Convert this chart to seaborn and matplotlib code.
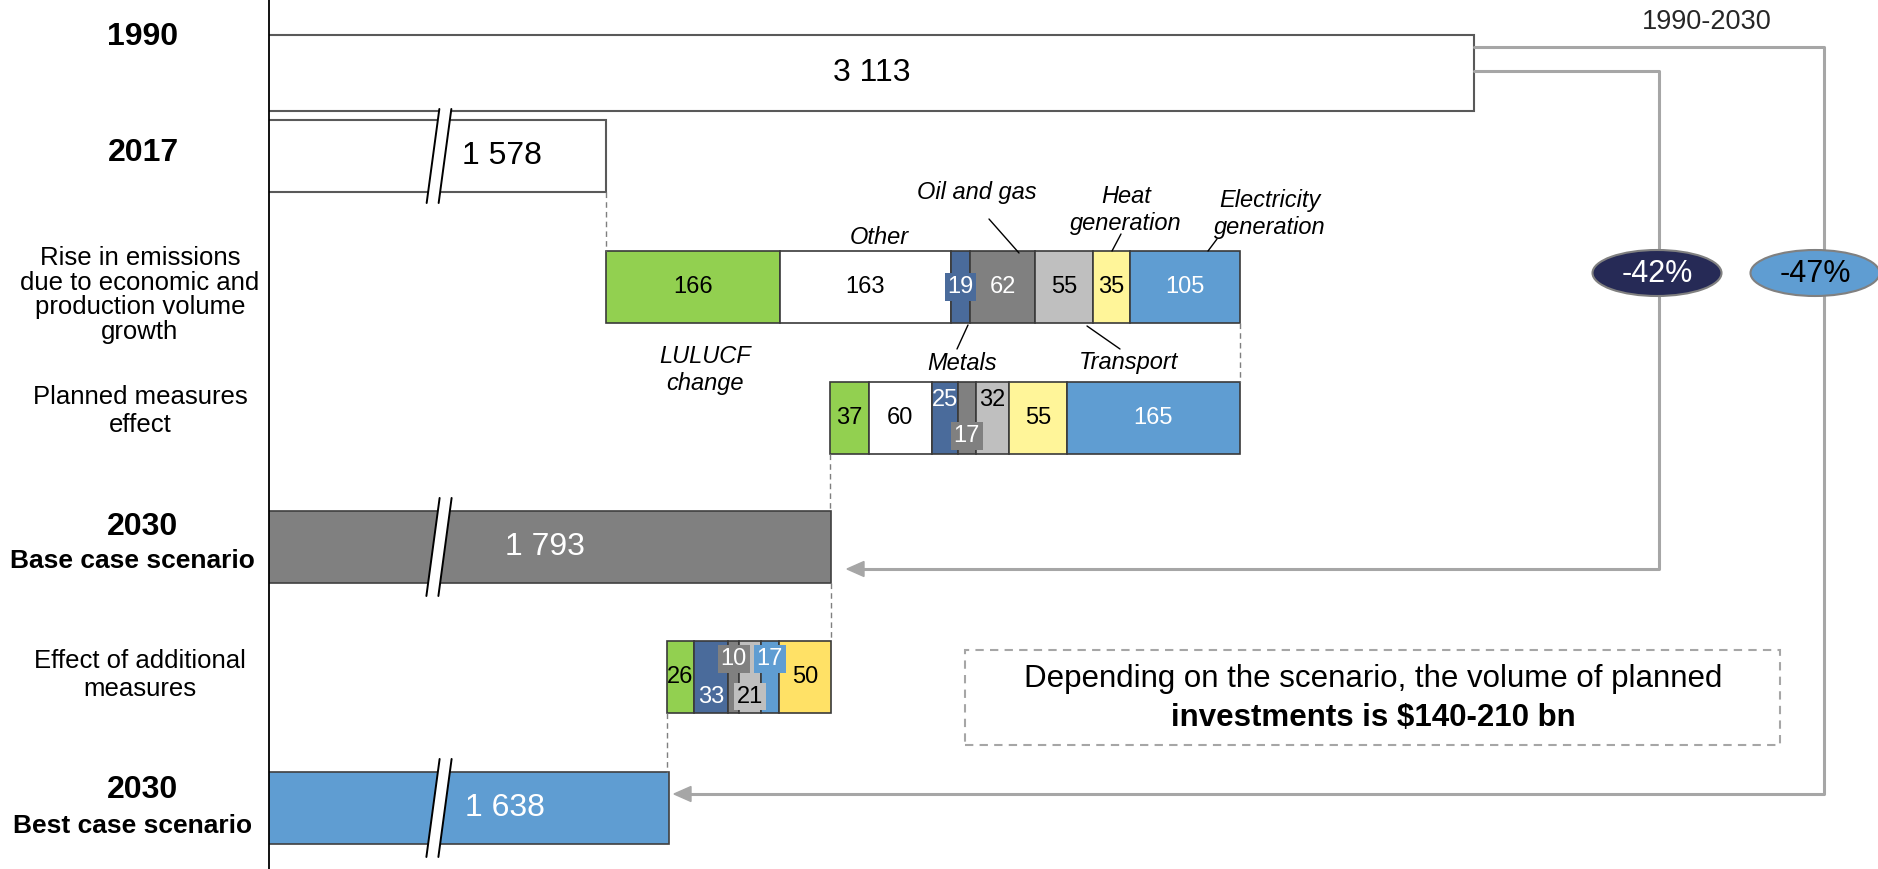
import matplotlib
matplotlib.use("Agg")
import matplotlib.pyplot as plt
import numpy as np
import seaborn as sns
from matplotlib.patches import Ellipse, Polygon, Rectangle
from matplotlib.lines import Line2D

# ---------------- data ----------------
total_1990 = 3113
total_2017 = 1578
total_2030_base = 1793
total_2030_best = 1638

rise_sectors = ["LULUCF change", "Other", "Metals", "Oil and gas",
                "Transport", "Heat generation", "Electricity generation"]
rise_values = [166, 163, 19, 62, 55, 35, 105]

planned_sectors = ["LULUCF change", "Other", "Metals", "Oil and gas",
                   "Transport", "Heat generation", "Electricity generation"]
planned_values = [37, 60, 25, 17, 32, 55, 165]

additional_sectors = ["LULUCF change", "Metals", "Oil and gas", "Transport",
                      "Electricity generation", "Heat generation (additional)"]
additional_values = [26, 33, 10, 21, 17, 50]

change_labels = ["-42%", "-47%"]
period_label = "1990-2030"
note_text = "Depending on the scenario, the volume of planned"
note_bold = "investments is $140-210 bn"

row_titles = ["1990", "2017",
              "Rise in emissions\ndue to economic and\nproduction volume\ngrowth",
              "Planned measures\neffect", "2030", "Effect of additional\nmeasures", "2030"]
row_subtitles = {4: "Base case scenario", 6: "Best case scenario"}

# ---------------- styling ----------------
sector_colors = {
    "LULUCF change": "#92D050",
    "Other": "#FFFFFF",
    "Metals": "#4A6B9B",
    "Oil and gas": "#808080",
    "Transport": "#BFBFBF",
    "Heat generation": "#FFF599",
    "Heat generation (additional)": "#FFE166",
    "Electricity generation": "#5F9DD2",
}
white_text = {"Metals", "Oil and gas", "Electricity generation"}
EDGE = "#3A3A3A"

sns.set_theme(style="white")
plt.rcParams["font.family"] = ["Liberation Sans", "DejaVu Sans"]
plt.rcParams["text.color"] = "black"

W, H = 1878, 869
fig = plt.figure(figsize=(W / 100, H / 100), dpi=100)
AX_LEFT = 269
ax = fig.add_axes([AX_LEFT / W, 0, 1 - AX_LEFT / W, 1])

# vertical layout (row centres in row units, downwards)
ROW_PX0, ROW_STEP = 73.0, 130.5
row_pos = [0.0, 0.636, 1.640, 2.644, 3.632, 4.628, 5.632]
BAR_H = 0.552
BAR_H_1990 = 0.585

# broken horizontal axis: linear near the totals, squeezed beyond BREAK_AT
X_LEFT = 1256.3
PX_PER_UNIT = 1.0474
BREAK_AT = 2250.0
SQUEEZE = 0.182


def fwd(v):
    v = np.asarray(v, dtype=float)
    return np.where(v <= BREAK_AT, v, BREAK_AT + (v - BREAK_AT) * SQUEEZE)


def inv(u):
    u = np.asarray(u, dtype=float)
    return np.where(u <= BREAK_AT, u, BREAK_AT + (u - BREAK_AT) / SQUEEZE)


def px_to_x(px):
    return float(inv(X_LEFT + (px - AX_LEFT) / PX_PER_UNIT))


def fpos(px, py):
    return (px / W, 1 - py / H)


def hbar(value, pos, height, left, color, edgecolor=EDGE, lw=1.2):
    sns.barplot(x=[value], y=[pos], orient="h", native_scale=True, width=height,
                color=color, saturation=1, errorbar=None, left=left,
                edgecolor=edgecolor, linewidth=lw, ax=ax)


# ---------------- bars ----------------
hbar(total_1990, row_pos[0], BAR_H_1990, 0, "#FFFFFF", edgecolor="#595959", lw=1.5)
hbar(total_2017, row_pos[1], BAR_H, 0, "#FFFFFF", edgecolor="#595959", lw=1.5)

rise_starts = total_2017 + np.concatenate([[0], np.cumsum(rise_values)[:-1]])
for s, v, name in zip(rise_starts, rise_values, rise_sectors):
    hbar(v, row_pos[2], BAR_H, s, sector_colors[name])
rise_end = total_2017 + sum(rise_values)

planned_left = rise_end - sum(planned_values)
planned_starts = planned_left + np.concatenate([[0], np.cumsum(planned_values)[:-1]])
for s, v, name in zip(planned_starts, planned_values, planned_sectors):
    hbar(v, row_pos[3], BAR_H, s, sector_colors[name])

hbar(total_2030_base, row_pos[4], BAR_H, 0, "#808080", edgecolor="#404040")

add_left = total_2030_base - sum(additional_values)
add_starts = add_left + np.concatenate([[0], np.cumsum(additional_values)[:-1]])
for s, v, name in zip(add_starts, additional_values, additional_sectors):
    hbar(v, row_pos[5], BAR_H, s, sector_colors[name])

hbar(total_2030_best, row_pos[6], BAR_H, 0, "#5F9DD2", edgecolor="#404040")

ax.set_xscale("function", functions=(fwd, inv))
ax.set_xlim(X_LEFT, float(inv(X_LEFT + (W - AX_LEFT) / PX_PER_UNIT)))
ax.set_ylim((H - ROW_PX0) / ROW_STEP, -ROW_PX0 / ROW_STEP)
ax.set_xticks([])
ax.set_yticks([])
ax.set_xlabel("")
ax.set_ylabel("")
for side in ["top", "right", "bottom"]:
    ax.spines[side].set_visible(False)
ax.spines["left"].set_color("#000000")
ax.spines["left"].set_linewidth(1.3)

# ---------------- value labels inside segments ----------------
SEG_FS = 17


def seg_labels(starts, values, names, pos, offsets, boxed):
    for s, v, name, off, box in zip(starts, values, names, offsets, boxed):
        tc = "white" if name in white_text else "black"
        kw = {}
        if box:
            kw["bbox"] = dict(boxstyle="square,pad=0.12", fc=sector_colors[name], ec="none")
        ax.text(s + v / 2, pos + off, f"{v}", ha="center", va="center",
                fontsize=SEG_FS, color=tc, zorder=6, **kw)


seg_labels(rise_starts, rise_values, rise_sectors, row_pos[2],
           [0] * 7, [False, False, True, False, False, False, False])
seg_labels(planned_starts, planned_values, planned_sectors, row_pos[3],
           [0, 0, -0.14, 0.14, -0.14, 0, 0], [False, False, False, True, False, False, False])
seg_labels(add_starts, additional_values, additional_sectors, row_pos[5],
           [0, 0.15, -0.14, 0.15, -0.14, 0], [False, False, True, True, True, False])

# totals
TOT_FS = 23
for val, pos, px, col in [(total_1990, row_pos[0], 872, "black"),
                          (total_2017, row_pos[1], 502, "black"),
                          (total_2030_base, row_pos[4], 545, "white"),
                          (total_2030_best, row_pos[6], 505, "white")]:
    ax.text(px_to_x(px), pos, f"{val:,}".replace(",", " "), ha="center", va="center",
            fontsize=TOT_FS, color=col, zorder=6)

# dashed connectors between consecutive steps
conn = [(total_2017, 1, 2), (rise_end, 2, 3), (planned_left, 3, 4),
        (total_2030_base, 4, 5), (add_left, 5, 6)]
for xv, a, b in conn:
    ax.plot([xv, xv], [row_pos[a] + BAR_H / 2, row_pos[b] - BAR_H / 2],
            color="#7F7F7F", lw=1.0, ls=(0, (4, 3)), zorder=1)

# ---------------- axis-break marks ----------------
def break_mark(cx, cy, half_h, slope=0.135, gap=12):
    dx = slope * 2 * half_h
    pts = [(cx - gap / 2 - dx / 2, cy + half_h), (cx - gap / 2 + dx / 2, cy - half_h),
           (cx + gap / 2 + dx / 2, cy - half_h), (cx + gap / 2 - dx / 2, cy + half_h)]
    fig.add_artist(Polygon([fpos(*p) for p in pts], closed=True, fc="white", ec="none",
                           transform=fig.transFigure, zorder=4))
    for (x0, y0), (x1, y1) in [(pts[0], pts[1]), (pts[3], pts[2])]:
        fig.add_artist(Line2D([x0 / W, x1 / W], [1 - y0 / H, 1 - y1 / H], color="black",
                              lw=1.4, transform=fig.transFigure, zorder=5))


for i, extra in [(1, 11), (4, 13), (6, 13)]:
    cy = ROW_PX0 + row_pos[i] * ROW_STEP
    break_mark(439, cy, BAR_H * ROW_STEP / 2 + extra)

# ---------------- row titles ----------------
ROW_FS = 18.5
fig.text(*fpos(143, 37), row_titles[0], ha="center", va="center", fontsize=23, fontweight="bold")
fig.text(*fpos(143, 153), row_titles[1], ha="center", va="center", fontsize=23, fontweight="bold")
fig.text(*fpos(140, 295), row_titles[2], ha="center", va="center", fontsize=ROW_FS, linespacing=1.02)
fig.text(*fpos(140, 411), row_titles[3], ha="center", va="center", fontsize=ROW_FS, linespacing=1.22)
fig.text(*fpos(143, 527), row_titles[4], ha="center", va="center", fontsize=23, fontweight="bold")
fig.text(*fpos(132, 561), row_subtitles[4], ha="center", va="center", fontsize=19, fontweight="bold")
fig.text(*fpos(140, 675), row_titles[5], ha="center", va="center", fontsize=ROW_FS, linespacing=1.22)
fig.text(*fpos(143, 790), row_titles[6], ha="center", va="center", fontsize=23, fontweight="bold")
fig.text(*fpos(133, 826), row_subtitles[6], ha="center", va="center", fontsize=19, fontweight="bold")

# ---------------- sector call-outs ----------------
SEC_FS = 17
callouts = [
    ("Oil and gas", (977, 193), [(989, 219), (1019, 253)]),
    ("Heat\ngeneration", (1126, 210), [(1121, 234), (1112, 251)]),
    ("Electricity\ngeneration", (1270, 214), [(1217, 239), (1208, 251)]),
    ("Other", (879, 238), None),
    ("LULUCF\nchange", (705, 370), None),
    ("Metals", (962, 363), [(968, 325), (957, 349)]),
    ("Transport", (1129, 363), [(1087, 326), (1120, 349)]),
]
for text, (px, py), leader in callouts:
    fig.text(*fpos(px, py), text, ha="center", va="center", fontsize=SEC_FS,
             style="italic", linespacing=1.2)
    if leader:
        (x0, y0), (x1, y1) = leader
        fig.add_artist(Line2D([x0 / W, x1 / W], [1 - y0 / H, 1 - y1 / H], color="black",
                              lw=1.0, transform=fig.transFigure))

# ---------------- 1990-2030 change brackets ----------------
GRAY = "#A6A6A6"
bar_end_px = ax.transData.transform((total_1990, row_pos[0]))[0]
brackets = [(47, 1824, 794, 674), (71, 1659, 569, 847)]
for y_top, x_v, y_bot, tip in brackets:
    xs = [bar_end_px, x_v, x_v, tip + 15]
    ys = [y_top, y_top, y_bot, y_bot]
    fig.add_artist(Line2D([x / W for x in xs], [1 - y / H for y in ys], color=GRAY,
                          lw=2.2, transform=fig.transFigure, zorder=2))
    head = [(tip, y_bot), (tip + 17, y_bot - 7.5), (tip + 17, y_bot + 7.5)]
    fig.add_artist(Polygon([fpos(*p) for p in head], closed=True, fc=GRAY, ec=GRAY,
                           transform=fig.transFigure, zorder=2))

for label, cx, fc, tc in [(change_labels[0], 1657, "#262A56", "white"),
                          (change_labels[1], 1815, "#5F9DD2", "black")]:
    fig.add_artist(Ellipse(fpos(cx, 273), 129 / W, 46 / H, fc=fc, ec="#808080", lw=1.5,
                           transform=fig.transFigure, zorder=3))
    fig.text(*fpos(cx, 274), label, ha="center", va="center", fontsize=22, color=tc, zorder=4)

fig.text(*fpos(1707, 22), period_label, ha="center", va="center", fontsize=19.5, color="#262626")

# ---------------- investment note ----------------
fig.add_artist(Rectangle(fpos(965, 745), (1780 - 965) / W, (745 - 650) / H, fill=False,
                         ec=GRAY, lw=1.5, ls=(0, (4, 3)), transform=fig.transFigure))
fig.text(*fpos(1373, 679), note_text, ha="center", va="center", fontsize=22.5)
fig.text(*fpos(1373, 718), note_bold, ha="center", va="center", fontsize=22.5, fontweight="bold")

fig.savefig("out.png", dpi=100)
